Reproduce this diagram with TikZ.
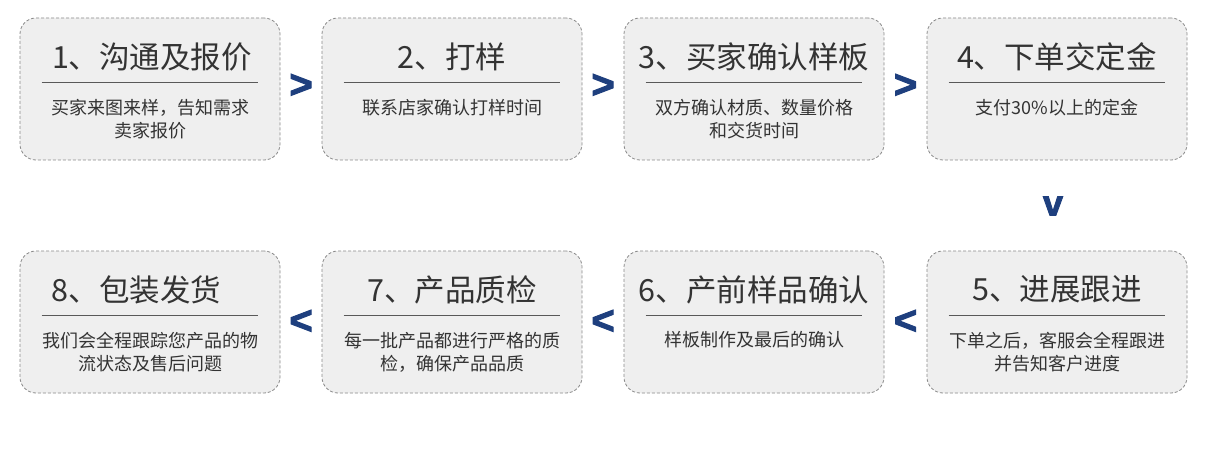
\documentclass[tikz,border=0pt]{standalone}
\usepackage{fontspec}
\setmainfont{Noto Sans CJK SC}
\newfontfamily\arrowfont{Liberation Sans}[BoldFeatures={FakeBold=2.5}]
\usetikzlibrary{positioning,calc}
\definecolor{stepfill}{HTML}{EFEFEF}
\definecolor{stepedge}{HTML}{8A8A8A}
\definecolor{steptext}{HTML}{333333}
\definecolor{navy}{HTML}{1E3F7E}

\begin{document}
\begin{tikzpicture}[x=1pt,y=-1pt,
       stepbox/.style={draw=stepedge,dash pattern=on 3pt off 2pt,fill=stepfill,rounded corners=16pt,minimum width=260pt,minimum height=142pt,line width=0.8pt},
       ttl/.style={font=\fontsize{30.5}{34}\selectfont,text=steptext,inner sep=0pt},
       dsc/.style={font=\fontsize{18}{23}\selectfont,text=steptext,align=center,anchor=north,inner sep=0pt},
       sep/.style={draw=black!65,line width=0.9pt},
       chev/.style={font=\arrowfont\bfseries\fontsize{40}{40}\selectfont,text=navy,inner sep=0pt}]
      \useasboundingbox[fill=white] (0,0) rectangle (1211,468);
      % top row
      \node[stepbox] (b1) at (150,89) {};
      \node[stepbox] (b2) at (452,89) {};
      \node[stepbox] (b3) at (754,89) {};
      \node[stepbox] (b4) at (1057,89) {};
      % bottom row
      \node[stepbox] (b8) at (150,322) {};
      \node[stepbox] (b7) at (452,322) {};
      \node[stepbox] (b6) at (754,322) {};
      \node[stepbox] (b5) at (1057,322) {};
      % titles
      \node[ttl] (t1) at ([xshift=2pt,yshift=-39pt]b1.north) {1、沟通及报价};
      \node[ttl] (t2) at ([yshift=-39pt]b2.north) {2、打样};
      \node[ttl] (t3) at ([yshift=-39pt]b3.north) {3、买家确认样板};
      \node[ttl] (t4) at ([yshift=-39pt]b4.north) {4、下单交定金};
      \node[ttl] (t5) at ([yshift=-39pt]b5.north) {5、进展跟进};
      \node[ttl] (t6) at ([yshift=-39pt]b6.north) {6、产前样品确认};
      \node[ttl] (t7) at ([yshift=-39pt]b7.north) {7、产品质检};
      \node[ttl,anchor=west] (t8) at ([xshift=32pt,yshift=-39pt]b8.north west) {8、包装发货};
      % rules under titles
      \foreach \b in {b1,b2,b3,b4,b5,b6,b7,b8}
        \draw[sep] ([xshift=22pt,yshift=-65pt]\b.north west) -- ([xshift=-22pt,yshift=-65pt]\b.north east);
      % descriptions
      \node[dsc] (d1) at ([yshift=-81pt]b1.north) {买家来图来样，告知需求\\卖家报价};
      \node[dsc] (d2) at ([yshift=-81pt]b2.north) {联系店家确认打样时间};
      \node[dsc] (d3) at ([yshift=-81pt]b3.north) {双方确认材质、数量价格\\和交货时间};
      \node[dsc] (d4) at ([yshift=-81pt]b4.north) {支付30\%以上的定金};
      \node[dsc] (d5) at ([yshift=-81pt]b5.north) {下单之后，客服会全程跟进\\并告知客户进度};
      \node[dsc] (d6) at ([yshift=-81pt]b6.north) {样板制作及最后的确认};
      \node[dsc] (d7) at ([yshift=-81pt]b7.north) {每一批产品都进行严格的质\\检，确保产品品质};
      \node[dsc] (d8) at ([yshift=-81pt]b8.north) {我们会全程跟踪您产品的物\\流状态及售后问题};
      % step marks
      \node[chev] (g12) at ([yshift=3pt]$(b1.east)!0.5!(b2.west)$) {>};
      \node[chev] (g23) at ([yshift=3pt]$(b2.east)!0.5!(b3.west)$) {>};
      \node[chev] (g34) at ([yshift=3pt]$(b3.east)!0.5!(b4.west)$) {>};
      \node[chev,font=\arrowfont\bfseries\fontsize{36}{36}\selectfont] (g45) at (1053,206) {v};
      \node[chev] (g56) at ($(b6.east)!0.5!(b5.west)$) {<};
      \node[chev] (g67) at ($(b7.east)!0.5!(b6.west)$) {<};
      \node[chev] (g78) at ($(b8.east)!0.5!(b7.west)$) {<};
    \end{tikzpicture}
\end{document}
